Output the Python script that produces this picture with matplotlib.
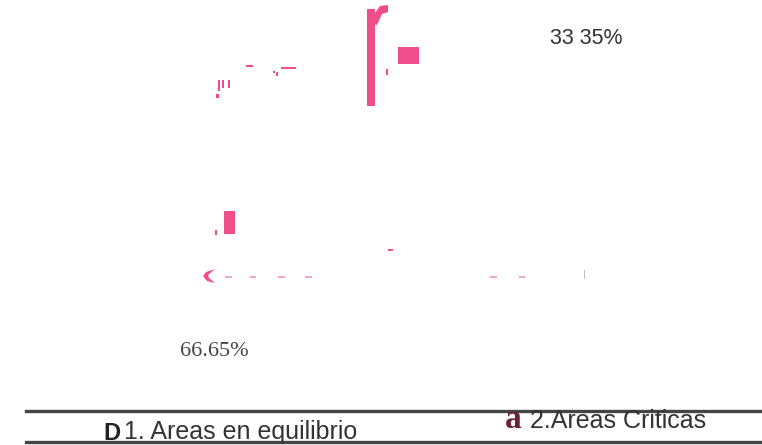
import matplotlib.pyplot as plt
from matplotlib.patches import Rectangle, Polygon

# pie data (two zones)
categories = ["1. Areas en equilibrio", "2.Areas Criticas"]
shares = [66.65, 33.35]
pct_labels = ["66.65%", "33 35%"]  # as printed on the scanned chart
legend_marks = ["D", "a"]

# pink specks left over from the scanned wedges (pixel boxes: x, y, w, h, colour)
PINK = "#f04e8a"
LIGHT = "#f6a6c3"
scan_specks = [
    (367, 9, 8, 97, PINK), (398, 47, 21, 17, PINK), (386, 69, 2, 6, PINK),
    (224, 211, 11, 23, PINK), (215, 230, 2, 5, PINK), (388, 249, 5, 2, PINK),
    (246, 65, 7, 2, PINK), (281, 67, 15, 2, PINK), (273, 71, 2, 2, PINK),
    (276, 72, 2, 4, PINK), (218, 80, 2, 11, PINK), (222, 80, 2, 8, PINK),
    (228, 80, 2, 8, PINK), (216, 94, 3, 4, PINK),
    (225, 276, 7, 2, LIGHT), (250, 276, 6, 2, LIGHT), (278, 276, 7, 2, LIGHT),
    (305, 276, 7, 2, LIGHT), (490, 276, 7, 2, LIGHT), (519, 276, 6, 2, LIGHT),
    (584, 270, 1, 9, "#b8c0d0"),
]

fig = plt.figure(figsize=(7.62, 4.45), dpi=100)
ax = fig.add_axes([0, 0, 1, 1])

# the wedges themselves are white on the scan, only the labels survive
wedges, texts = ax.pie(shares, colors=["white", "white"], startangle=20,
                       center=(400, 195), radius=130, labels=pct_labels,
                       labeldistance=1.87, counterclock=True)
texts[0].set(ha="center", va="center", fontfamily="Liberation Serif",
             fontsize=16, color="#444444")
texts[1].set(ha="center", va="center", fontfamily="Liberation Sans",
             fontsize=15.5, color="#333333")

ax.set_xlim(0, 762)
ax.set_ylim(445, 0)
ax.set_aspect("auto")
ax.axis("off")

for x, y, w, h, c in scan_specks:
    ax.add_patch(Rectangle((x, y), w, h, color=c, lw=0))
# hook of the big "r"
ax.add_patch(Polygon([(374, 24), (375, 13), (380, 6), (388, 5), (388, 12),
                      (382, 14), (377, 25)], color=PINK, lw=0))
# little curl at the left of the dashed row
ax.add_patch(Polygon([(215, 269), (206, 272), (203, 276), (207, 281), (215, 283),
                      (209, 278), (208, 275)], color=PINK, lw=0))

# legend drawn like the scan: two rules and the entries
ax.axhline(411, xmin=26 / 762, xmax=1, color="#444444", lw=2.4)
ax.axhline(441.5, xmin=26 / 762, xmax=1, color="#444444", lw=2.4)
ax.text(103, 440, legend_marks[0], fontfamily="Liberation Sans", fontweight="bold",
        fontsize=17, color="#222222", va="baseline")
ax.text(124, 439, categories[0], fontfamily="Liberation Sans", fontsize=18,
        color="#333333", va="baseline")
ax.text(505, 428, legend_marks[1], fontfamily="Liberation Serif", fontweight="bold",
        fontsize=24, color="#6b2238", va="baseline")
ax.text(530, 428, categories[1], fontfamily="Liberation Sans", fontsize=18,
        color="#333333", va="baseline")

fig.savefig("out.png", dpi=100)
